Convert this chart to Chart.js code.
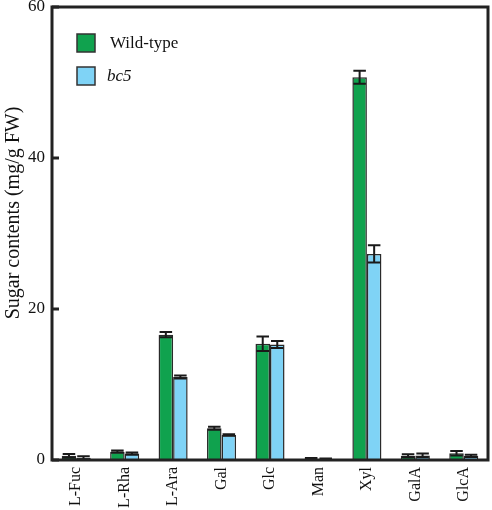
<!DOCTYPE html>
<html><head><meta charset="utf-8">
<script src="https://cdn.jsdelivr.net/npm/chart.js@4/dist/chart.umd.min.js"></script>
<style>html,body{margin:0;padding:0;background:#fff}#wrap{width:492px;height:510px}</style>
</head><body><div id="wrap"><canvas id="c" width="492" height="510"></canvas></div>
<script>
const categories = ["L-Fuc","L-Rha","L-Ara","Gal","Glc","Man","Xyl","GalA","GlcA"];
const wildType = [0.55, 1.1, 16.6, 4.2, 15.4, 0.15, 50.7, 0.55, 0.9];
const wildTypeErr = [0.25, 0.15, 0.35, 0.2, 0.95, 0.1, 0.85, 0.2, 0.3];
const bc5 = [0.3, 0.85, 11.0, 3.3, 15.3, 0.1, 27.3, 0.6, 0.55];
const bc5Err = [0.2, 0.15, 0.2, 0.1, 0.45, 0.1, 1.15, 0.25, 0.15];
const yTicks = [0, 20, 40, 60];
const seriesNames = ["Wild-type", "bc5"];
const colors = ["#10a24e", "#7fd3f6"];

const SERIF = "'Liberation Serif', 'DejaVu Serif', serif";

const framePlugin = {
  id: 'frame',
  afterDatasetsDraw(chart) {
    const ctx = chart.ctx, a = chart.chartArea, y = chart.scales.y;
    ctx.save();
    const errs = [wildTypeErr, bc5Err];
    chart.data.datasets.forEach((ds, di) => {
      const meta = chart.getDatasetMeta(di);
      meta.data.forEach((bar, i) => {
        const v = ds.data[i], e = errs[di][i];
        const yt = y.getPixelForValue(v + e), yb = y.getPixelForValue(Math.max(0, v - e));
        const half = bar.width / 2 - 1;
        ctx.strokeStyle = '#1a1a1a';
        ctx.lineWidth = 2;
        ctx.beginPath();
        ctx.moveTo(bar.x, yt); ctx.lineTo(bar.x, yb);
        ctx.moveTo(bar.x - half, yt); ctx.lineTo(bar.x + half, yt);
        ctx.moveTo(bar.x - half, yb); ctx.lineTo(bar.x + half, yb);
        ctx.stroke();
      });
    });
    ctx.strokeStyle = '#222';
    ctx.lineWidth = 3;
    ctx.strokeRect(a.left, a.top, a.right - a.left, a.bottom - a.top);
    yTicks.forEach(t => {
      const py = y.getPixelForValue(t);
      ctx.beginPath(); ctx.moveTo(a.left, py); ctx.lineTo(a.left + 7, py); ctx.stroke();
    });
    chart.data.datasets.forEach((ds, di) => {
      const lx = a.left + 25, ly = a.top + 27 + di * 33;
      ctx.fillStyle = colors[di];
      ctx.fillRect(lx, ly, 18, 18);
      ctx.strokeStyle = '#333'; ctx.lineWidth = 1.5;
      ctx.strokeRect(lx, ly, 18, 18);
      ctx.fillStyle = '#111';
      ctx.font = (di === 1 ? 'italic ' : '') + '17px ' + SERIF;
      ctx.textBaseline = 'middle'; ctx.textAlign = 'left';
      ctx.fillText(ds.label, lx + (di === 1 ? 30 : 33), ly + 10);
    });
    ctx.save();
    ctx.translate(14, 213);
    ctx.rotate(-Math.PI / 2);
    ctx.font = '20px ' + SERIF;
    ctx.fillStyle = '#111';
    ctx.textAlign = 'center'; ctx.textBaseline = 'middle';
    ctx.fillText('Sugar contents (mg/g FW)', 0, 0);
    ctx.restore();
    ctx.restore();
  }
};

new Chart(document.getElementById('c'), {
  type: 'bar',
  data: {
    labels: categories,
    datasets: [
      { label: seriesNames[0], data: wildType, backgroundColor: colors[0], borderColor: '#2a2a2a', borderWidth: 1.5 },
      { label: seriesNames[1], data: bc5, backgroundColor: colors[1], borderColor: '#2a2a2a', borderWidth: 1.5 }
    ]
  },
  options: {
    responsive: false,
    animation: false,
    layout: { padding: { top: 7, right: 4, left: 0, bottom: 0 } },
    plugins: { legend: { display: false }, tooltip: { enabled: false } },
    datasets: { bar: { categoryPercentage: 0.6, barPercentage: 1.0 } },
    scales: {
      x: {
        grid: { display: false, drawTicks: false },
        border: { display: false },
        ticks: { color: '#111', font: { family: SERIF, size: 16 }, minRotation: 90, maxRotation: 90, padding: 7, autoSkip: false },
        afterFit(s) { s.height = 50; s.paddingLeft = 0; s.paddingRight = 0; }
      },
      y: {
        min: 0, max: 60,
        afterBuildTicks(s) { s.ticks = yTicks.map(v => ({ value: v })); },
        grid: { display: false, drawTicks: false },
        border: { display: false },
        ticks: { color: '#111', font: { family: SERIF, size: 17 }, padding: 7 },
        afterFit(s) { s.width = 52; s.paddingTop = 0; s.paddingBottom = 0; }
      }
    }
  },
  plugins: [framePlugin]
});
</script></body></html>
